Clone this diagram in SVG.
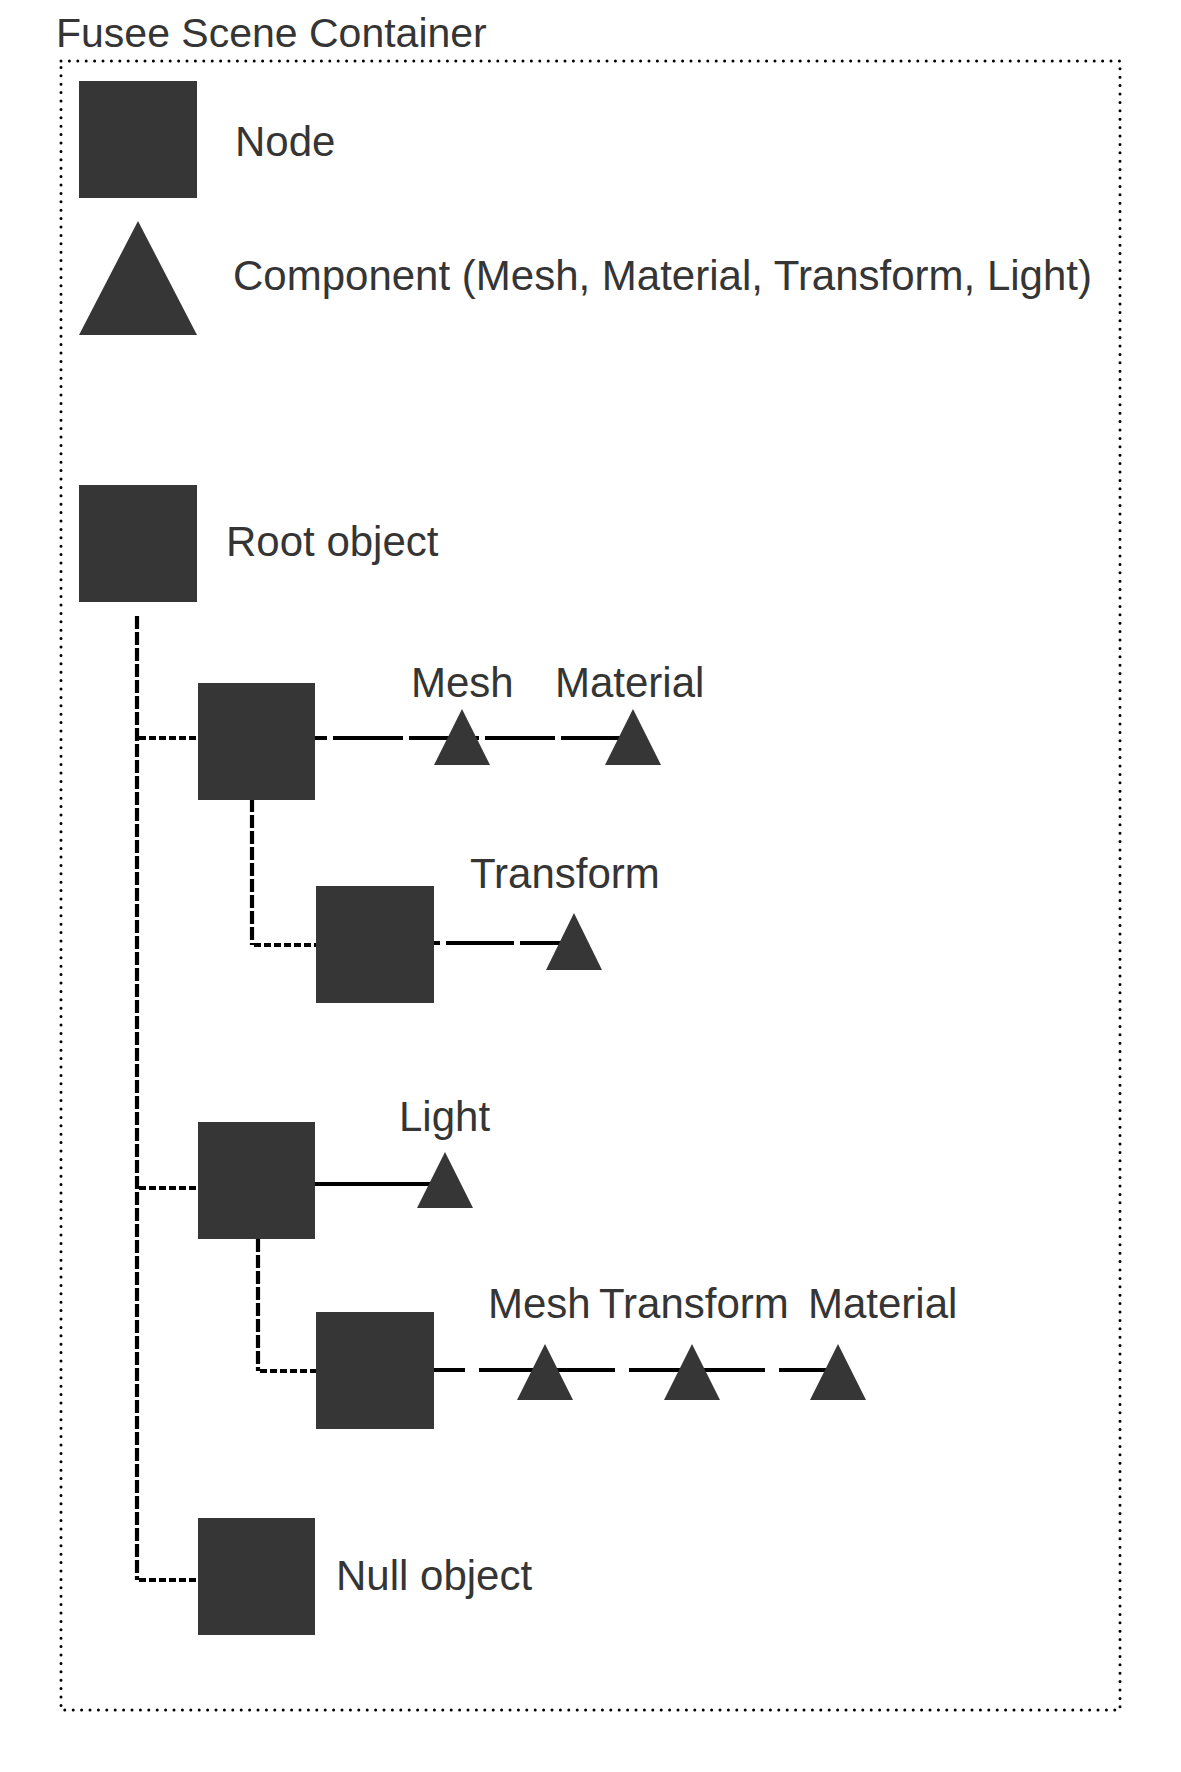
<svg xmlns="http://www.w3.org/2000/svg" width="1181" height="1772" viewBox="0 0 1181 1772">
<style>
  text { font-family: "Liberation Sans", Arial, sans-serif; font-size: 42px; fill: #353535; }
  .title { font-size: 41px; }
  .node { fill: #363636; }
  .comp { fill: #363636; }
  .border { fill: none; stroke: #000; stroke-width: 3; stroke-dasharray: 0 8.4; stroke-linecap: round; }
  .tree { fill: none; stroke: #000; stroke-width: 4.2; stroke-dasharray: 13 3; }
  .branch { fill: none; stroke: #000; stroke-width: 4; stroke-dasharray: 7 3; }
  .link { fill: none; stroke: #000; stroke-width: 4.2; }
</style>
<rect width="1181" height="1772" fill="#fff"/>
<g id="container">
  <rect class="border" x="61" y="61" width="1059" height="1649"/>
  <text class="title" x="56" y="47">Fusee Scene Container</text>
</g>
<g id="legend">
  <g id="legend-node">
    <rect class="node" x="79" y="81" width="118" height="117"/>
    <text x="235" y="156">Node</text>
  </g>
  <g id="legend-component">
    <polygon class="comp" points="138,221 197,335 79,335"/>
    <text x="233" y="290">Component (Mesh, Material, Transform, Light)</text>
  </g>
</g>
<g id="connectors">
  <path class="tree" d="M137,616 V1580"/>
  <path class="branch" d="M139,738 H198"/>
  <path class="branch" d="M139,1188 H198"/>
  <path class="branch" d="M139,1580 H198"/>
  <path class="tree" d="M252,799 V945"/>
  <path class="branch" d="M254,945 H316"/>
  <path class="tree" d="M258,1239 V1371"/>
  <path class="branch" d="M260,1371 H316"/>
  <path class="link" d="M315,738 H633" stroke-dasharray="70 6" stroke-dashoffset="58"/>
  <path class="link" d="M434,943 H574" stroke-dasharray="68 6" stroke-dashoffset="62"/>
  <path class="link" d="M315,1184 H445"/>
  <path class="link" d="M434,1370 H838" stroke-dasharray="136 14" stroke-dashoffset="105"/>
</g>
<g id="root">
  <rect class="node" x="79" y="485" width="118" height="117"/>
  <text x="226" y="556">Root object</text>
</g>
<g id="child1">
  <rect class="node" x="198" y="683" width="117" height="117"/>
</g>
<g id="child1-mesh">
  <polygon class="comp" points="462,709 490,765 434,765"/>
  <text x="411" y="697">Mesh</text>
</g>
<g id="child1-material">
  <polygon class="comp" points="633,709 661,765 605,765"/>
  <text x="555" y="697">Material</text>
</g>
<g id="child1-1">
  <rect class="node" x="316" y="886" width="118" height="117"/>
</g>
<g id="child1-1-transform">
  <polygon class="comp" points="574,913 602,970 546,970"/>
  <text x="470" y="888">Transform</text>
</g>
<g id="child2">
  <rect class="node" x="198" y="1122" width="117" height="117"/>
</g>
<g id="child2-light">
  <polygon class="comp" points="445,1152 473,1208 417,1208"/>
  <text x="399" y="1131">Light</text>
</g>
<g id="child2-1">
  <rect class="node" x="316" y="1312" width="118" height="117"/>
</g>
<g id="child2-1-mesh">
  <polygon class="comp" points="545,1344 573,1400 517,1400"/>
  <text x="488" y="1318">Mesh</text>
</g>
<g id="child2-1-transform">
  <polygon class="comp" points="692,1344 720,1400 664,1400"/>
  <text x="599" y="1318">Transform</text>
</g>
<g id="child2-1-material">
  <polygon class="comp" points="838,1344 866,1400 810,1400"/>
  <text x="808" y="1318">Material</text>
</g>
<g id="null-object">
  <rect class="node" x="198" y="1518" width="117" height="117"/>
  <text x="336" y="1590">Null object</text>
</g>
</svg>
